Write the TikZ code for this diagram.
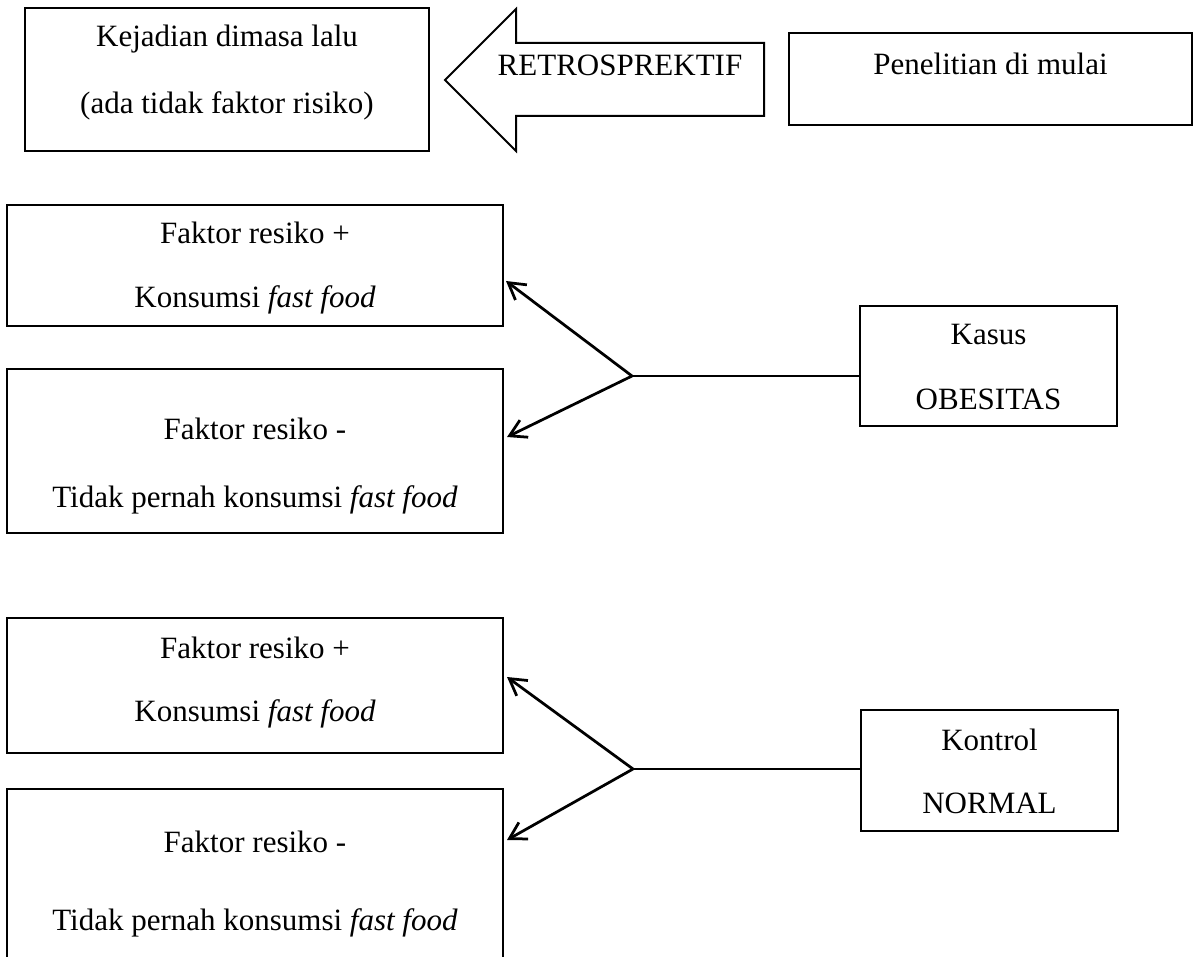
\documentclass[tikz,border=0pt]{standalone}
\usepackage{fontspec}
\setmainfont{Liberation Serif}
\usetikzlibrary{arrows.meta}
\begin{document}
\begin{tikzpicture}[x=0.4pt,y=-0.4pt,
  box/.style={draw, line width=0.8pt, inner sep=0pt, rectangle},
  txt/.style={anchor=base, inner sep=0pt, font=\fontsize{12.4}{14}\selectfont},
  conn/.style={line width=1.1pt, -{Straight Barb[length=6.5pt,width=7.6pt]}},
  link/.style={line width=1.1pt}]
\useasboundingbox (0,0) rectangle (1198,957);
\clip (0,0) rectangle (1198,957);

% top row
\node[box, minimum width=161.6pt, minimum height=57.2pt] (kej) at (227,79.5) {};
\node[txt] (kej1) at (227,47) {Kejadian dimasa lalu};
\node[txt] (kej2) at (227,114) {(ada tidak faktor risiko)};

\draw[line width=0.8pt, line join=miter] (764,43) -- (516,43) -- (516,9) -- (445,80)
  -- (516,151) -- (516,116) -- (764,116) -- cycle;
\node[txt] (retro) at (620,76) {RETROSPREKTIF};

\node[box, minimum width=161.2pt, minimum height=36.8pt] (pen) at (990.5,79) {};
\node[txt] (pen1) at (990.5,75) {Penelitian di mulai};

% kasus group
\node[box, minimum width=198.4pt, minimum height=48.4pt] (f1) at (255,265.5) {};
\node[txt] (f1a) at (255,244) {Faktor resiko +};
\node[txt] (f1b) at (255,308) {Konsumsi \textit{fast food}};

\node[box, minimum width=198.4pt, minimum height=65.6pt] (f2) at (255,451) {};
\node[txt] (f2a) at (255,440) {Faktor resiko -};
\node[txt] (f2b) at (255,508) {Tidak pernah konsumsi \textit{fast food}};

\node[box, minimum width=102.8pt, minimum height=48pt] (kasus) at (988.5,366) {};
\node[txt] (kasus1) at (988.5,345) {Kasus};
\node[txt] (kasus2) at (988.5,410) {OBESITAS};

\coordinate (j1) at (632,376);
\coordinate (a1) at (506,281);
\coordinate (a2) at (507,437);
\draw[link] (j1) -- (j1 -| kasus.west);
\draw[conn] (j1) -- (a1);
\draw[conn] (j1) -- (a2);

% kontrol group
\node[box, minimum width=198.4pt, minimum height=54pt] (f3) at (255,685.5) {};
\node[txt] (f3a) at (255,658) {Faktor resiko +};
\node[txt] (f3b) at (255,721) {Konsumsi \textit{fast food}};

\node[box, minimum width=198.4pt, minimum height=76.4pt] (f4) at (255,884.5) {};
\node[txt] (f4a) at (255,852) {Faktor resiko -};
\node[txt] (f4b) at (255,930) {Tidak pernah konsumsi \textit{fast food}};

\node[box, minimum width=102.8pt, minimum height=48.4pt] (kontrol) at (989.5,770.5) {};
\node[txt] (kontrol1) at (989.5,750) {Kontrol};
\node[txt] (kontrol2) at (989.5,813) {NORMAL};

\coordinate (j2) at (633,769);
\coordinate (a3) at (507,677);
\coordinate (a4) at (507,840);
\draw[link] (j2) -- (j2 -| kontrol.west);
\draw[conn] (j2) -- (a3);
\draw[conn] (j2) -- (a4);
\end{tikzpicture}
\end{document}
